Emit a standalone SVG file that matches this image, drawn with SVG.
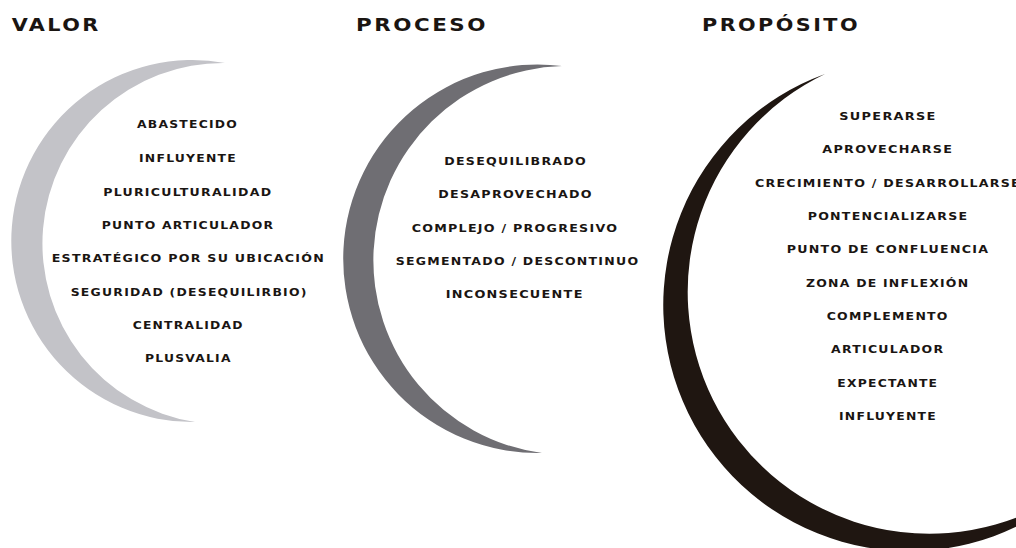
<svg xmlns="http://www.w3.org/2000/svg" width="1016" height="548" viewBox="0 0 1016 548">
<style>
.title{font-family:"DejaVu Sans","Liberation Sans",sans-serif;font-weight:bold;font-size:17px;letter-spacing:2px;fill:#1a1512}
.item{font-family:"DejaVu Sans","Liberation Sans",sans-serif;font-weight:bold;font-size:10px;letter-spacing:1px;fill:#1a1512}
</style>
<rect width="1016" height="548" fill="#ffffff"/>
<g id="valor">
<path d="M 225 63 A 181 181 0 1 0 195 422 A 180.6 180.6 0 0 1 225 63 Z" fill="#c3c3c8"/>
<text class="title" x="11.7" y="30.5" textLength="89" lengthAdjust="spacingAndGlyphs">VALOR</text>
<text class="item" x="137" y="128.3" textLength="101" lengthAdjust="spacingAndGlyphs">ABASTECIDO</text>
<text class="item" x="139" y="161.7" textLength="98" lengthAdjust="spacingAndGlyphs">INFLUYENTE</text>
<text class="item" x="103.3" y="195.7" textLength="169" lengthAdjust="spacingAndGlyphs">PLURICULTURALIDAD</text>
<text class="item" x="101.7" y="229" textLength="172.6" lengthAdjust="spacingAndGlyphs">PUNTO ARTICULADOR</text>
<text class="item" x="51.7" y="262.3" textLength="273.3" lengthAdjust="spacingAndGlyphs">ESTRATÉGICO POR SU UBICACIÓN</text>
<text class="item" x="70.7" y="295.7" textLength="237" lengthAdjust="spacingAndGlyphs">SEGURIDAD (DESEQUILIRBIO)</text>
<text class="item" x="132.7" y="329" textLength="111" lengthAdjust="spacingAndGlyphs">CENTRALIDAD</text>
<text class="item" x="145" y="362.3" textLength="86.7" lengthAdjust="spacingAndGlyphs">PLUSVALIA</text>
</g>
<g id="proceso">
<path d="M 562 66 A 194.3 194.3 0 1 0 542 453 A 194.4 194.4 0 0 1 562 66 Z" fill="#6f6e73"/>
<text class="title" x="356" y="30.5" textLength="132" lengthAdjust="spacingAndGlyphs">PROCESO</text>
<text class="item" x="444.3" y="165" textLength="142.7" lengthAdjust="spacingAndGlyphs">DESEQUILIBRADO</text>
<text class="item" x="438.3" y="198.3" textLength="154.4" lengthAdjust="spacingAndGlyphs">DESAPROVECHADO</text>
<text class="item" x="411.7" y="231.7" textLength="206.6" lengthAdjust="spacingAndGlyphs">COMPLEJO / PROGRESIVO</text>
<text class="item" x="395.7" y="265" textLength="243.6" lengthAdjust="spacingAndGlyphs">SEGMENTADO / DESCONTINUO</text>
<text class="item" x="445.7" y="298.3" textLength="138" lengthAdjust="spacingAndGlyphs">INCONSECUENTE</text>
</g>
<g id="proposito">
<path d="M 825 74 A 246 246 0 1 0 1040 513.5 L 1040 506.9 A 241.7 241.7 0 1 1 825 74 Z" fill="#1f1611"/>
<text class="title" x="702" y="30.5" textLength="158" lengthAdjust="spacingAndGlyphs">PROPÓSITO</text>
<text class="item" x="839.3" y="120" textLength="97.4" lengthAdjust="spacingAndGlyphs">SUPERARSE</text>
<text class="item" x="822.3" y="152.7" textLength="131" lengthAdjust="spacingAndGlyphs">APROVECHARSE</text>
<text class="item" x="755" y="186.7" textLength="266" lengthAdjust="spacingAndGlyphs">CRECIMIENTO / DESARROLLARSE</text>
<text class="item" x="807.7" y="220" textLength="160.6" lengthAdjust="spacingAndGlyphs">PONTENCIALIZARSE</text>
<text class="item" x="786.7" y="253.3" textLength="202.6" lengthAdjust="spacingAndGlyphs">PUNTO DE CONFLUENCIA</text>
<text class="item" x="806" y="286.7" textLength="163.3" lengthAdjust="spacingAndGlyphs">ZONA DE INFLEXIÓN</text>
<text class="item" x="826.7" y="320" textLength="122" lengthAdjust="spacingAndGlyphs">COMPLEMENTO</text>
<text class="item" x="831" y="353.3" textLength="113.3" lengthAdjust="spacingAndGlyphs">ARTICULADOR</text>
<text class="item" x="837.3" y="386.7" textLength="101" lengthAdjust="spacingAndGlyphs">EXPECTANTE</text>
<text class="item" x="839" y="420" textLength="98" lengthAdjust="spacingAndGlyphs">INFLUYENTE</text>
</g>
</svg>
